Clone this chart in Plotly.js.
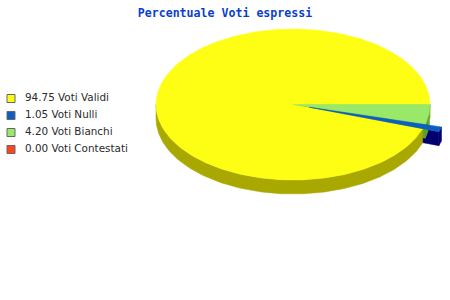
<!DOCTYPE html>
<html><head><meta charset="utf-8">
<script src="https://cdn.plot.ly/plotly-3.0.1.min.js"></script>
<style>html,body{margin:0;padding:0;background:#fff}</style>
</head><body><div id="chart" style="width:450px;height:300px"></div>
<script>
// ---- data ----
const labels = ['Voti Validi', 'Voti Nulli', 'Voti Bianchi', 'Voti Contestati'];
const values = [94.75, 1.05, 4.20, 0.00];
const topColors = ['#fefe14', '#0a5fc0', '#99e868', '#ff4422'];
const sideColors = ['#a9a800', '#000070', '#5ea62e', '#a02010'];
const exploded = [false, true, false, false];
const titleText = 'Percentuale Voti espressi';

// ---- geometry (layout only) ----
const cx = 293, cy = 104.5, rx = 137, ry = 75.5, depth = 14, explodePx = 17;
const legX = 11, legTextX = 25, legY0 = 98.5, legStep = 17;

const total = values.reduce((a, b) => a + b, 0);
const rad = d => d * Math.PI / 180;
function pt(a, ox, oy, z) {
  return [cx + ox + rx * Math.cos(rad(a)), cy + oy - ry * Math.sin(rad(a)) + z];
}
function arc(a0, a1, ox, oy, z) {
  const n = Math.max(2, Math.ceil(Math.abs(a1 - a0)));
  const out = [];
  for (let k = 0; k <= n; k++) out.push(pt(a0 + (a1 - a0) * k / n, ox, oy, z));
  return out;
}
function poly(points, color) {
  return {
    type: 'scatter', mode: 'lines', fill: 'toself',
    x: points.map(p => p[0]), y: points.map(p => p[1]),
    fillcolor: color, line: { color: color, width: 0.5 },
    hoverinfo: 'skip', showlegend: false
  };
}

const slices = [];
let cum = 0;
values.forEach((v, i) => {
  const a0 = cum / total * 360, a1 = (cum + v) / total * 360;
  cum += v;
  if (v <= 0) return;
  const am = (a0 + a1) / 2;
  const ox = exploded[i] ? explodePx * Math.cos(rad(am)) : 0;
  const oy = exploded[i] ? -explodePx * Math.sin(rad(am)) * ry / rx : 0;
  slices.push({ i, a0, a1, ox, oy });
});

const radialWalls = [], outerWalls = [], tops = [];
slices.forEach(s => {
  const c0 = [cx + s.ox, cy + s.oy];
  [[s.a0, Math.cos(rad(s.a0)) > 0], [s.a1, Math.cos(rad(s.a1)) < 0]].forEach(([a, vis]) => {
    if (!vis) return;
    const r = pt(a, s.ox, s.oy, 0), rb = pt(a, s.ox, s.oy, depth);
    radialWalls.push(poly([c0, r, rb, [c0[0], c0[1] + depth], c0], sideColors[s.i]));
  });
  const lo = Math.max(s.a0, 180), hi = Math.min(s.a1, 360);
  if (hi > lo) {
    const pts = arc(lo, hi, s.ox, s.oy, 0).concat(arc(hi, lo, s.ox, s.oy, depth));
    pts.push(pts[0]);
    outerWalls.push(poly(pts, sideColors[s.i]));
  }
  const tp = [c0].concat(arc(s.a0, s.a1, s.ox, s.oy, 0));
  tp.push(c0);
  tops.push({ ex: exploded[s.i], tr: poly(tp, topColors[s.i]) });
});
const topTraces = tops.filter(t => !t.ex).map(t => t.tr).concat(tops.filter(t => t.ex).map(t => t.tr));

// legend
const legYs = labels.map((_, i) => legY0 + i * legStep);
const legMarkers = {
  type: 'scatter', mode: 'markers', x: labels.map(() => legX), y: legYs,
  marker: { symbol: 'square', size: 8, color: topColors, line: { color: '#666', width: 1 } },
  hoverinfo: 'skip', showlegend: false
};
const legText = {
  type: 'scatter', mode: 'text', x: labels.map(() => legTextX), y: legYs,
  text: labels.map((l, i) => values[i].toFixed(2) + ' ' + l),
  textposition: 'middle right',
  textfont: { family: 'DejaVu Sans', size: 10.4, color: '#2a2a2a' },
  hoverinfo: 'skip', showlegend: false
};

const data = radialWalls.concat(outerWalls, topTraces, [legMarkers, legText]);
const layout = {
  width: 450, height: 300,
  margin: { l: 0, r: 0, t: 0, b: 0 },
  paper_bgcolor: '#fff', plot_bgcolor: '#fff',
  showlegend: false,
  xaxis: { range: [0, 450], visible: false, fixedrange: true },
  yaxis: { range: [300, 0], visible: false, fixedrange: true },
  title: {
    text: '<b>' + titleText + '</b>',
    font: { family: 'DejaVu Sans Mono', size: 11.6, color: '#0a3fcc' },
    x: 0.5, xanchor: 'center', xref: 'paper',
    y: 1 - 13 / 300, yanchor: 'middle', yref: 'container'
  }
};
Plotly.newPlot('chart', data, layout, { staticPlot: true, displayModeBar: false });
</script></body></html>
